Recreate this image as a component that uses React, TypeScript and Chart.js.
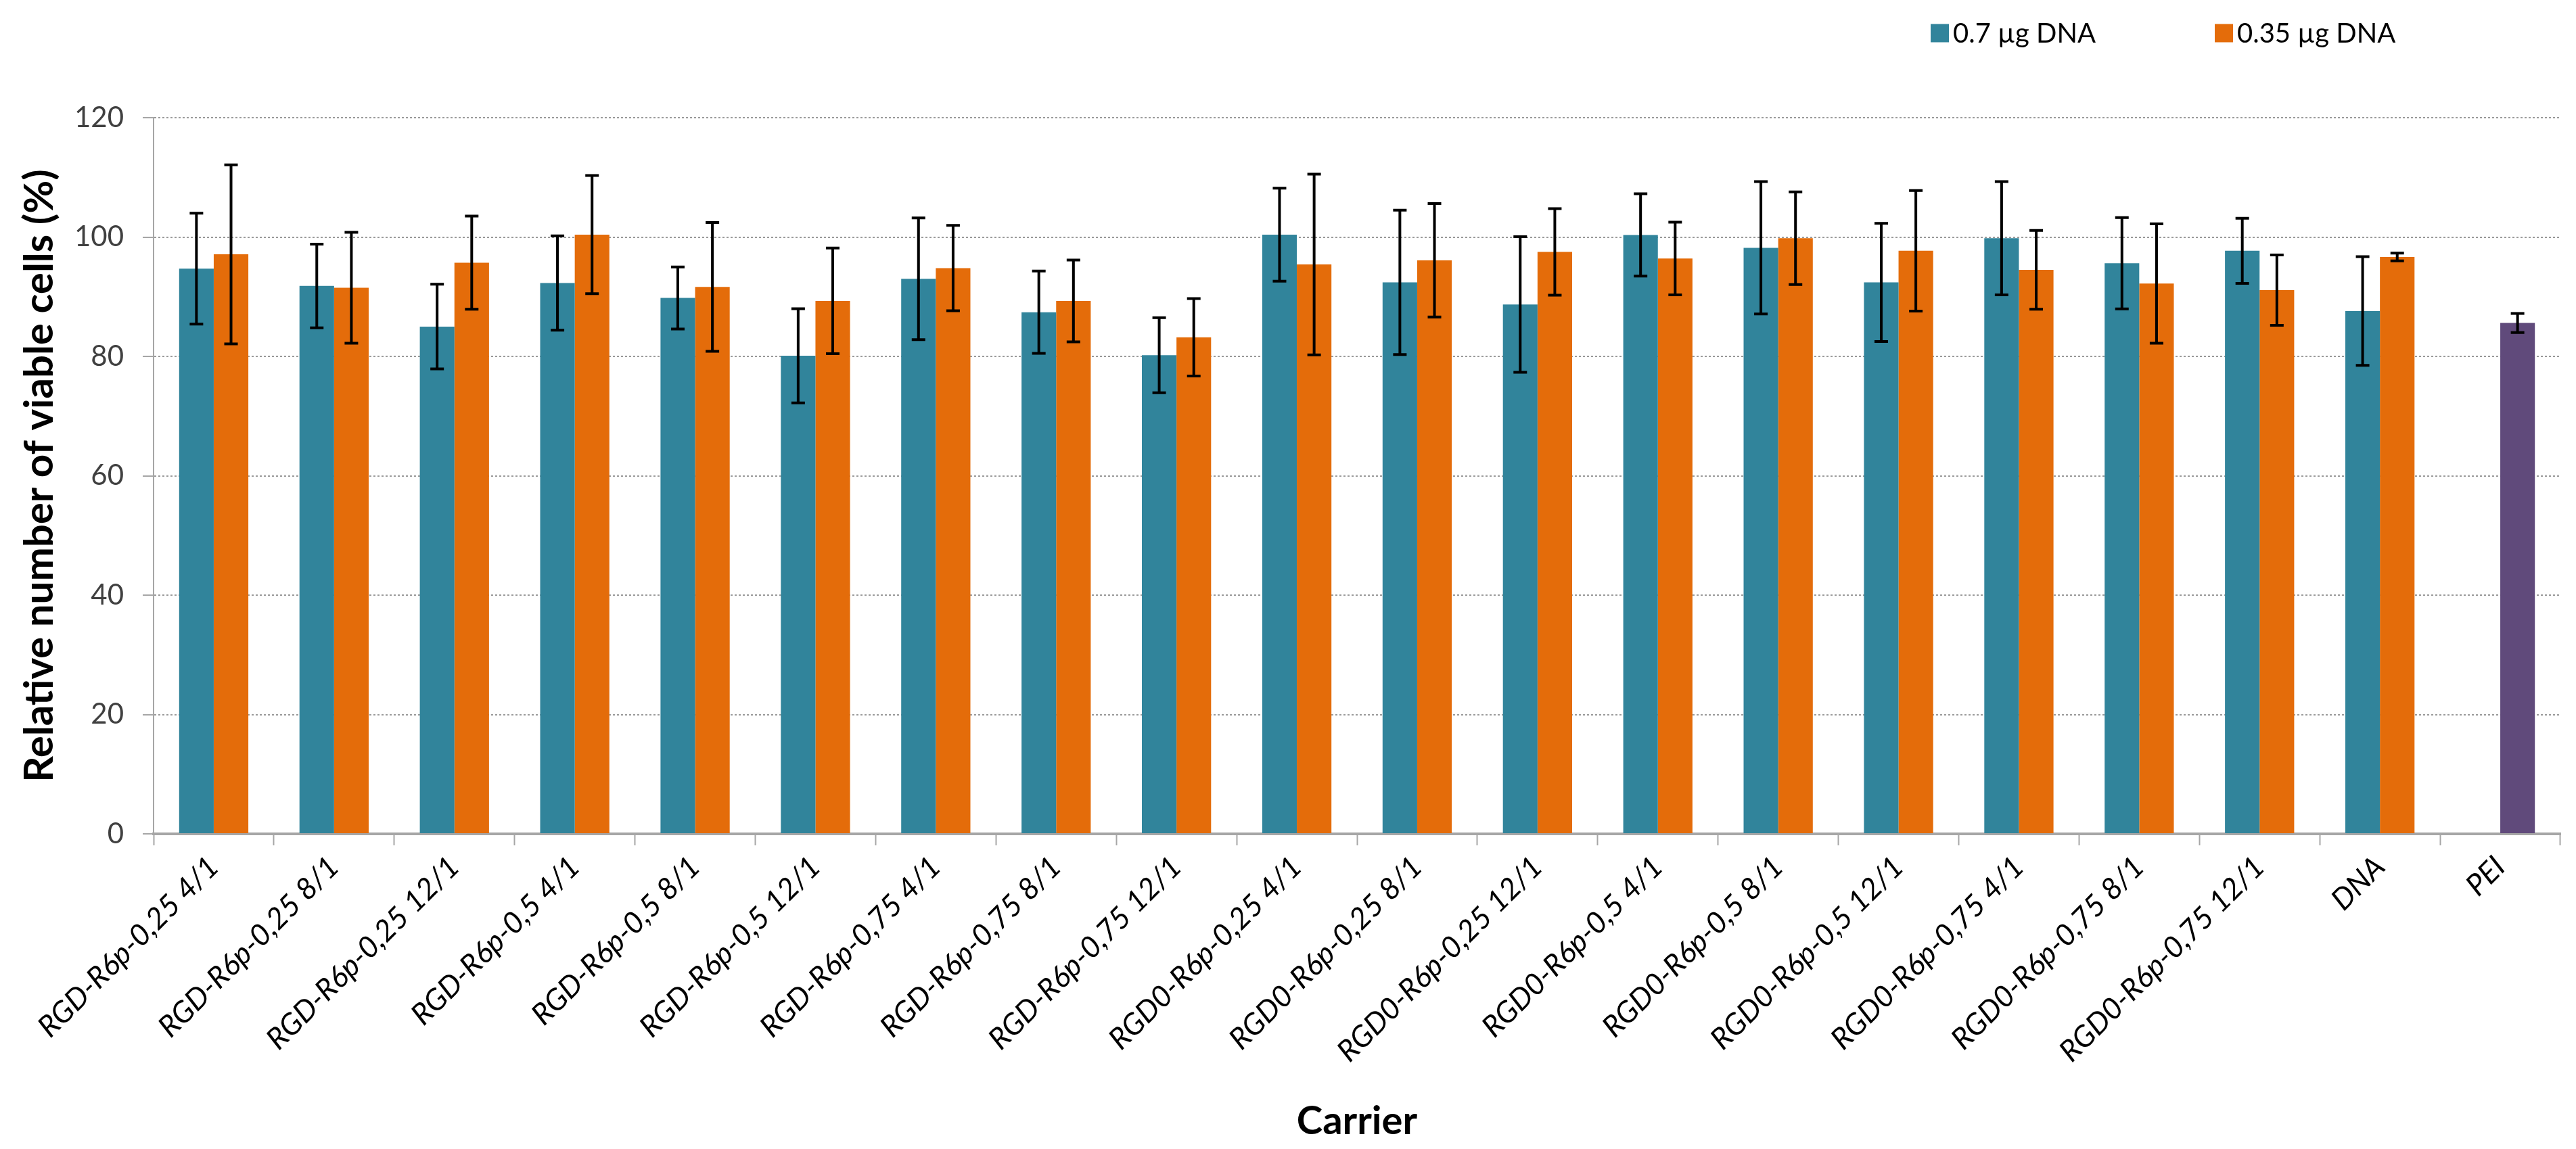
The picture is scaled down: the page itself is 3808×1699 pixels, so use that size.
import React, { useEffect, useRef } from "react";
import { Chart, registerables } from "chart.js";

Chart.register(...registerables);

const categories = [
  "RGD-R6p-0,25 4/1",
  "RGD-R6p-0,25 8/1",
  "RGD-R6p-0,25 12/1",
  "RGD-R6p-0,5 4/1",
  "RGD-R6p-0,5 8/1",
  "RGD-R6p-0,5 12/1",
  "RGD-R6p-0,75 4/1",
  "RGD-R6p-0,75 8/1",
  "RGD-R6p-0,75 12/1",
  "RGD0-R6p-0,25 4/1",
  "RGD0-R6p-0,25 8/1",
  "RGD0-R6p-0,25 12/1",
  "RGD0-R6p-0,5 4/1",
  "RGD0-R6p-0,5 8/1",
  "RGD0-R6p-0,5 12/1",
  "RGD0-R6p-0,75 4/1",
  "RGD0-R6p-0,75 8/1",
  "RGD0-R6p-0,75 12/1",
  "DNA",
  "PEI",
];

const seriesLabels = ["0.7 µg DNA", "0.35 µg DNA"];

const dna07 = [94.7, 91.8, 85.0, 92.3, 89.8, 80.1, 93.0, 87.4, 80.2, 100.4, 92.4, 88.7, 100.35, 98.2, 92.4, 99.8, 95.6, 97.7, 87.6, null];
const dna07Err = [9.3, 7.0, 7.1, 7.9, 5.2, 7.9, 10.2, 6.9, 6.3, 7.8, 12.1, 11.35, 6.9, 11.1, 9.9, 9.5, 7.65, 5.45, 9.1, null];
const dna035 = [97.1, 91.5, 95.7, 100.4, 91.65, 89.3, 94.8, 89.3, 83.2, 95.4, 96.1, 97.5, 96.4, 99.8, 97.7, 94.5, 92.2, 91.1, 96.65, 85.6];
const dna035Err = [15.0, 9.3, 7.8, 9.9, 10.8, 8.85, 7.15, 6.85, 6.5, 15.15, 9.5, 7.25, 6.1, 7.75, 10.1, 6.6, 10.0, 5.9, 0.65, 1.6];

const yMin = 0;
const yMax = 120;
const yStep = 20;

const TEAL = "#31849B";
const ORANGE = "#E46C0A";
const PURPLE = "#604A7B";

const seriesColors = [TEAL, ORANGE];
const seriesErrors = [dna07Err, dna035Err];

const errorBarPlugin = {
  id: "errorBars",
  afterDatasetsDraw(chart: any) {
    const ctx = chart.ctx;
    const yScale = chart.scales.y;
    chart.data.datasets.forEach((ds: any, di: number) => {
      const meta = chart.getDatasetMeta(di);
      const errs = seriesErrors[di];
      meta.data.forEach((bar: any, i: number) => {
        const v = ds.data[i];
        const e = errs[i];
        if (v == null || e == null) return;
        const x = bar.x;
        const yTop = yScale.getPixelForValue(v + e);
        const yBot = yScale.getPixelForValue(v - e);
        ctx.save();
        ctx.strokeStyle = "#000";
        ctx.lineWidth = 4;
        ctx.beginPath();
        ctx.moveTo(x, yTop);
        ctx.lineTo(x, yBot);
        ctx.moveTo(x - 10, yTop);
        ctx.lineTo(x + 10, yTop);
        ctx.moveTo(x - 10, yBot);
        ctx.lineTo(x + 10, yBot);
        ctx.stroke();
        ctx.restore();
      });
    });
  },
};

const legendPlugin = {
  id: "customLegend",
  afterDraw(chart: any) {
    const ctx = chart.ctx;
    const area = chart.chartArea;
    const x0 = area.right - 931;
    const yc = 49;
    const box = 27;
    ctx.save();
    ctx.font = "40px Lato";
    ctx.textBaseline = "middle";
    ctx.textAlign = "left";
    seriesLabels.forEach((label, i) => {
      const x = x0 + i * 420;
      ctx.fillStyle = seriesColors[i];
      ctx.fillRect(x, yc - box / 2, box, box);
      ctx.fillStyle = "#000";
      ctx.fillText(label, x + box + 6, yc + 1);
    });
    ctx.restore();
  },
};

export default function App() {
  const canvasRef = useRef<HTMLCanvasElement | null>(null);

  useEffect(() => {
    document.body.style.margin = "0";
    document.body.style.overflow = "hidden";
    const canvas = canvasRef.current;
    if (!canvas) return;
    const chart = new Chart(canvas, {
      type: "bar",
      data: {
        labels: categories,
        datasets: [
          {
            label: seriesLabels[0],
            data: dna07,
            backgroundColor: TEAL,
            borderWidth: 0,
            categoryPercentage: 0.575,
            barPercentage: 1.0,
          },
          {
            label: seriesLabels[1],
            data: dna035,
            backgroundColor: categories.map((c) => (c === "PEI" ? PURPLE : ORANGE)),
            borderWidth: 0,
            categoryPercentage: 0.575,
            barPercentage: 1.0,
          },
        ],
      },
      options: {
        animation: false,
        responsive: false,
        devicePixelRatio: 1,
        layout: { padding: { top: 174, right: 23, left: 0, bottom: 0 } },
        plugins: {
          legend: { display: false },
          tooltip: { enabled: false },
          title: { display: false },
        },
        scales: {
          x: {
            afterFit: (scale: any) => {
              scale.height = 466;
            },
            grid: {
              display: true,
              offset: true,
              drawOnChartArea: false,
              drawTicks: true,
              tickLength: 17,
              tickColor: "#a6a6a6",
              tickWidth: 2,
            },
            border: { display: true, color: "#a6a6a6", width: 4 },
            ticks: {
              autoSkip: false,
              minRotation: 45,
              maxRotation: 45,
              padding: 6,
              color: "#000",
              font: { family: "Lato", size: 44, style: "italic" },
            },
            title: {
              display: true,
              text: "Carrier",
              color: "#000",
              font: { family: "Lato", size: 58, weight: "bold", lineHeight: 1 },
              padding: { top: 0, bottom: 12 },
            },
          },
          y: {
            min: yMin,
            max: yMax,
            afterFit: (scale: any) => {
              scale.width = 227;
            },
            ticks: {
              stepSize: yStep,
              padding: 28,
              color: "#404040",
              font: { family: "Lato", size: 42 },
            },
            grid: {
              display: true,
              color: "#9a9a9a",
              lineWidth: 2,
              drawTicks: true,
              tickLength: 16,
              tickColor: "#a6a6a6",
              tickWidth: 2,
            },
            border: { display: true, color: "#a6a6a6", width: 2, dash: [3, 3] },
            title: {
              display: true,
              text: "Relative number of viable cells (%)",
              color: "#000",
              font: { family: "Lato", size: 60, weight: "bold", lineHeight: 1 },
              padding: { top: 29, bottom: 0 },
            },
          },
        },
      },
      plugins: [errorBarPlugin, legendPlugin],
    });
    return () => {
      chart.destroy();
    };
  }, []);

  return (
    <canvas
      ref={canvasRef}
      width={3808}
      height={1699}
      style={{ display: "block", width: "3808px", height: "1699px" }}
    />
  );
}
